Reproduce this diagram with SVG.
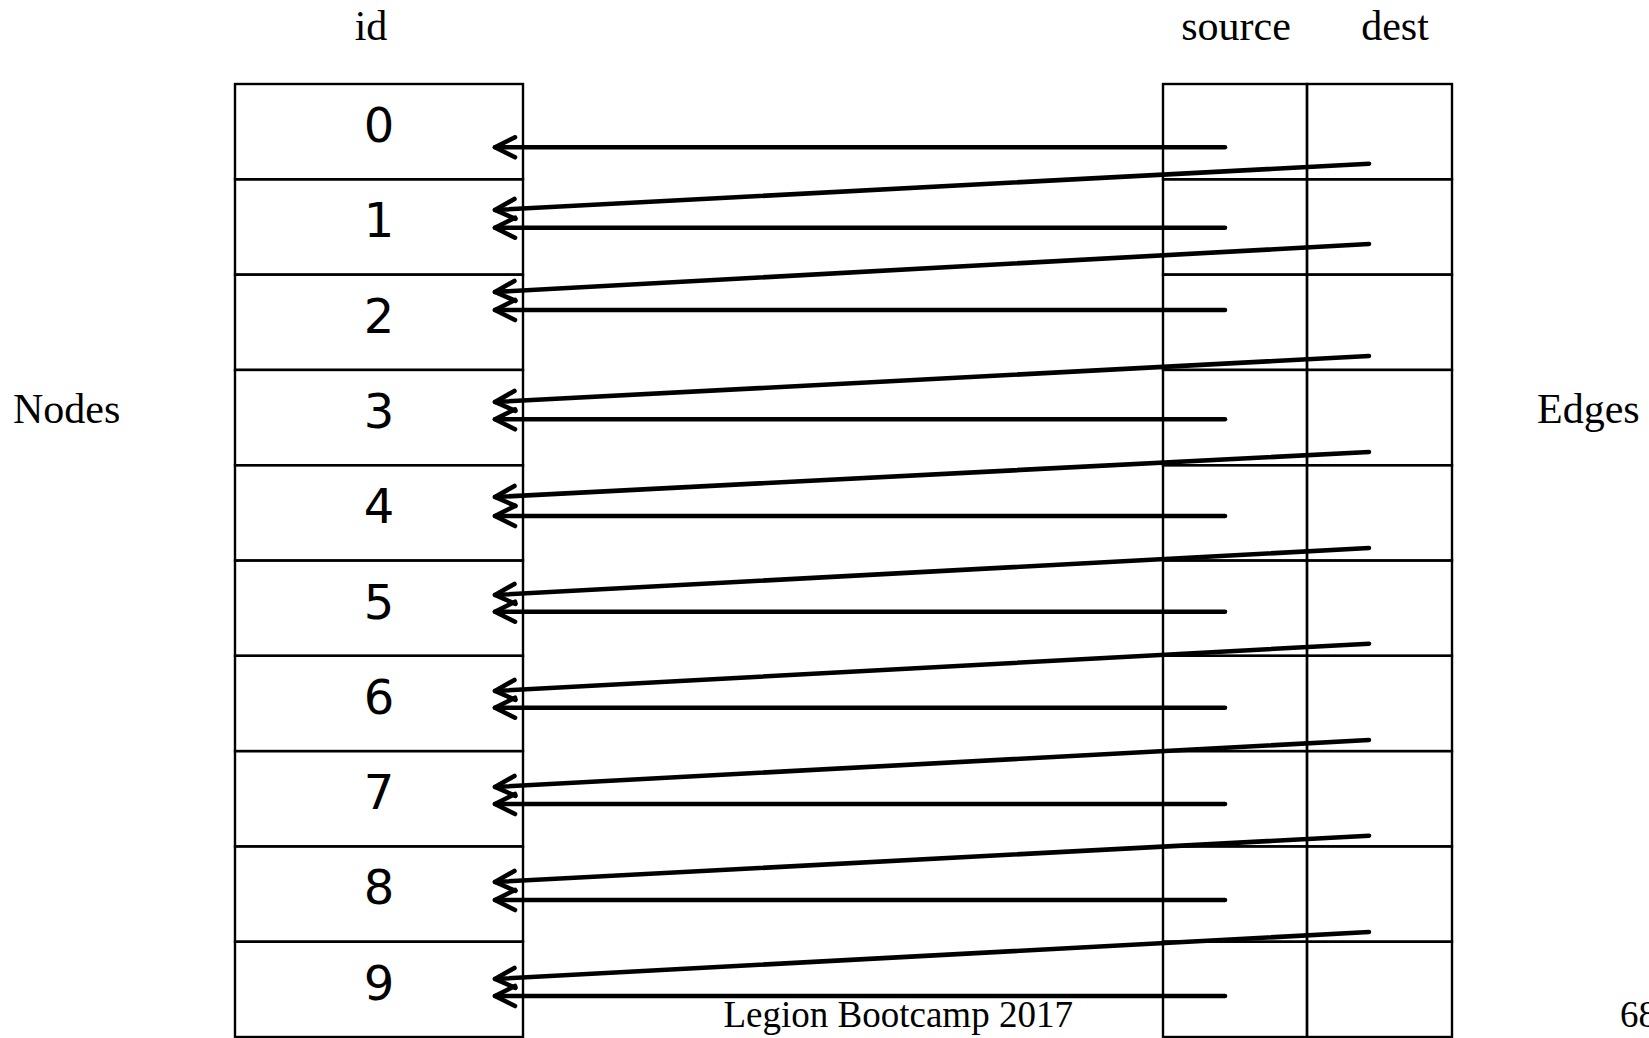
<svg xmlns="http://www.w3.org/2000/svg" width="1649" height="1038" viewBox="0 0 1649 1038">
<style>
.cell{fill:none;stroke:#000;stroke-width:2.4}
.num{font-family:"DejaVu Sans",sans-serif;font-size:48px;text-anchor:middle;fill:#000}
.lbl{font-family:"Liberation Serif",serif;font-size:42px;fill:#000}
.foot{font-family:"Liberation Serif",serif;font-size:37px;fill:#000}
.conn{stroke:#000;stroke-width:4.6;stroke-linecap:round;fill:none;marker-end:url(#chev)}
</style>
<defs>
<marker id="chev" markerUnits="userSpaceOnUse" orient="auto" refX="0" refY="0" markerWidth="30" markerHeight="30" viewBox="-25 -15 30 30" overflow="visible">
<path d="M-20,-10 L0,0 L-20,10" fill="none" stroke="#000" stroke-width="4.6" stroke-linecap="round" stroke-linejoin="round"/>
</marker>
</defs>
<rect width="1649" height="1038" fill="#fff"/>
<text class="lbl" x="371" y="40" text-anchor="middle">id</text>
<text class="lbl" x="1236" y="40" text-anchor="middle">source</text>
<text class="lbl" x="1395" y="40" text-anchor="middle">dest</text>
<text class="lbl" x="13" y="423">Nodes</text>
<text class="lbl" x="1537" y="423">Edges</text>
<g id="nodes">
<g id="node-0"><rect class="cell" x="235" y="84" width="288" height="95.3"/><text class="num" x="379" y="142">0</text></g>
<g id="node-1"><rect class="cell" x="235" y="179.3" width="288" height="95.3"/><text class="num" x="379" y="237.3">1</text></g>
<g id="node-2"><rect class="cell" x="235" y="274.6" width="288" height="95.3"/><text class="num" x="379" y="332.6">2</text></g>
<g id="node-3"><rect class="cell" x="235" y="369.9" width="288" height="95.3"/><text class="num" x="379" y="427.9">3</text></g>
<g id="node-4"><rect class="cell" x="235" y="465.2" width="288" height="95.3"/><text class="num" x="379" y="523.2">4</text></g>
<g id="node-5"><rect class="cell" x="235" y="560.5" width="288" height="95.3"/><text class="num" x="379" y="618.5">5</text></g>
<g id="node-6"><rect class="cell" x="235" y="655.8" width="288" height="95.3"/><text class="num" x="379" y="713.8">6</text></g>
<g id="node-7"><rect class="cell" x="235" y="751.1" width="288" height="95.3"/><text class="num" x="379" y="809.1">7</text></g>
<g id="node-8"><rect class="cell" x="235" y="846.4" width="288" height="95.3"/><text class="num" x="379" y="904.4">8</text></g>
<g id="node-9"><rect class="cell" x="235" y="941.7" width="288" height="95.3"/><text class="num" x="379" y="999.7">9</text></g>
</g>
<g id="edges">
<g id="edge-0"><rect class="cell" x="1163" y="84" width="144" height="95.3"/><rect class="cell" x="1307" y="84" width="145" height="95.3"/></g>
<g id="edge-1"><rect class="cell" x="1163" y="179.3" width="144" height="95.3"/><rect class="cell" x="1307" y="179.3" width="145" height="95.3"/></g>
<g id="edge-2"><rect class="cell" x="1163" y="274.6" width="144" height="95.3"/><rect class="cell" x="1307" y="274.6" width="145" height="95.3"/></g>
<g id="edge-3"><rect class="cell" x="1163" y="369.9" width="144" height="95.3"/><rect class="cell" x="1307" y="369.9" width="145" height="95.3"/></g>
<g id="edge-4"><rect class="cell" x="1163" y="465.2" width="144" height="95.3"/><rect class="cell" x="1307" y="465.2" width="145" height="95.3"/></g>
<g id="edge-5"><rect class="cell" x="1163" y="560.5" width="144" height="95.3"/><rect class="cell" x="1307" y="560.5" width="145" height="95.3"/></g>
<g id="edge-6"><rect class="cell" x="1163" y="655.8" width="144" height="95.3"/><rect class="cell" x="1307" y="655.8" width="145" height="95.3"/></g>
<g id="edge-7"><rect class="cell" x="1163" y="751.1" width="144" height="95.3"/><rect class="cell" x="1307" y="751.1" width="145" height="95.3"/></g>
<g id="edge-8"><rect class="cell" x="1163" y="846.4" width="144" height="95.3"/><rect class="cell" x="1307" y="846.4" width="145" height="95.3"/></g>
<g id="edge-9"><rect class="cell" x="1163" y="941.7" width="144" height="95.3"/><rect class="cell" x="1307" y="941.7" width="145" height="95.3"/></g>
</g>
<g id="connectors">
<line class="conn" x1="1225" y1="147.3" x2="495" y2="147.3"/>
<line class="conn" x1="1225" y1="227.7" x2="495" y2="227.7"/>
<line class="conn" x1="1225" y1="310" x2="495" y2="310"/>
<line class="conn" x1="1225" y1="419.3" x2="495" y2="419.3"/>
<line class="conn" x1="1225" y1="516" x2="495" y2="516"/>
<line class="conn" x1="1225" y1="611.7" x2="495" y2="611.7"/>
<line class="conn" x1="1225" y1="707.7" x2="495" y2="707.7"/>
<line class="conn" x1="1225" y1="804" x2="495" y2="804"/>
<line class="conn" x1="1225" y1="900" x2="495" y2="900"/>
<line class="conn" x1="1225" y1="996" x2="495" y2="996"/>
<line class="conn" x1="1369" y1="163.7" x2="495" y2="210"/>
<line class="conn" x1="1369" y1="244" x2="495" y2="292"/>
<line class="conn" x1="1369" y1="356" x2="495" y2="402"/>
<line class="conn" x1="1369" y1="452" x2="495" y2="497"/>
<line class="conn" x1="1369" y1="548" x2="495" y2="595"/>
<line class="conn" x1="1369" y1="643.7" x2="495" y2="691"/>
<line class="conn" x1="1369" y1="740" x2="495" y2="787"/>
<line class="conn" x1="1369" y1="835.7" x2="495" y2="882"/>
<line class="conn" x1="1369" y1="932" x2="495" y2="979"/>
</g>
<text class="foot" x="723.5" y="1026.5">Legion Bootcamp 2017</text>
<text class="foot" x="1620" y="1026.5">68</text>
</svg>
